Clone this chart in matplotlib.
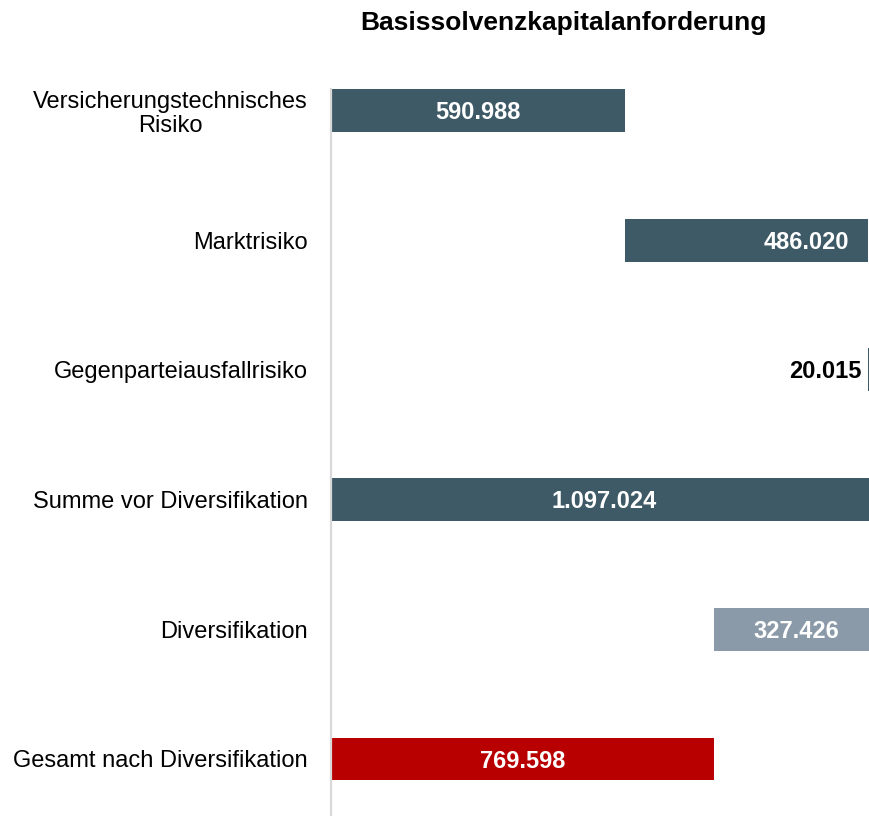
import matplotlib
matplotlib.use("Agg")
import matplotlib.pyplot as plt

categories = ["Versicherungstechnisches\nRisiko", "Marktrisiko", "Gegenparteiausfallrisiko",
              "Summe vor Diversifikation", "Diversifikation", "Gesamt nach Diversifikation"]
values = [590988, 486020, 20015, 1097024, 327426, 769598]
starts = [0, 590988, 1077008, 0, 769598, 0]
labels = ["590.988", "486.020", "20.015", "1.097.024", "327.426", "769.598"]
colors = ["#3d5a66", "#3d5a66", "#3d5a66", "#3d5a66", "#8a9aa8", "#b80000"]
title = "Basissolvenzkapitalanforderung"

plt.rcParams['font.family'] = ['Liberation Sans', 'DejaVu Sans']

W, H = 869, 816
fig = plt.figure(figsize=(W / 100, H / 100), dpi=100)
left_px = 331
scale = (867.6 - left_px) / 1077008  # px per unit
xmax = 1097024
ax_w = xmax * scale
top_px = 89
ax = fig.add_axes([left_px / W, 0, ax_w / W, (H - top_px) / H])

bh = 0.33
ys = list(range(len(categories)))
ax.barh(ys, values, left=starts, height=bh, color=colors, edgecolor='none')
ax.set_xlim(0, xmax)
ax.set_ylim((816 - 111) / 129.6, -bh / 2)

for s in ['top', 'right', 'bottom']:
    ax.spines[s].set_visible(False)
ax.spines['left'].set_color('#d9d9d9')
ax.spines['left'].set_linewidth(1.6)
ax.set_xticks([])
ax.set_yticks(ys)
ax.set_yticklabels(categories, fontsize=17, linespacing=1.13, multialignment='center')
ax.tick_params(axis='y', length=0, pad=16.5)

dy = -1.5
for i, (st, v, lab) in enumerate(zip(starts, values, labels)):
    if i == 1:
        ax.annotate(lab, (st + v, i), xytext=(-13, dy), textcoords='offset points',
                    ha='right', va='center', color='white', fontsize=17, fontweight='bold')
    elif i == 2:
        ax.annotate(lab, (st, i), xytext=(-4.5, dy), textcoords='offset points',
                    ha='right', va='center', color='black', fontsize=17, fontweight='bold')
    else:
        ax.annotate(lab, (st + v / 2, i), xytext=(0, dy), textcoords='offset points',
                    ha='center', va='center', color='white', fontsize=17, fontweight='bold')

fig.text(563 / W, 1 - 23 / H, title, ha='center', va='center', fontsize=19, fontweight='bold')

fig.savefig("out.png", dpi=100)
